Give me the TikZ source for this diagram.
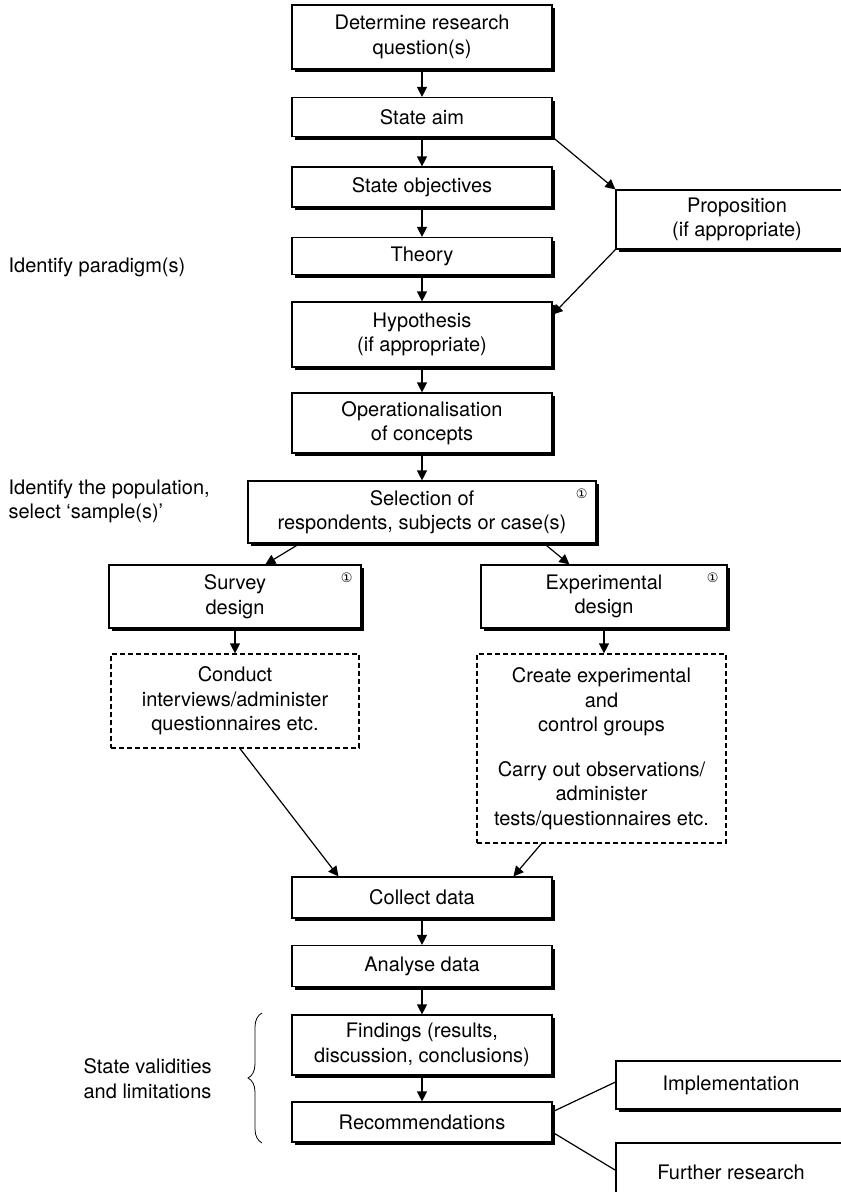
\documentclass[tikz,border=0pt]{standalone}
\usepackage{fontspec}
\setmainfont{TeX Gyre Heros}
\newfontfamily\circfont{DejaVu Sans}
\usetikzlibrary{arrows.meta, calc, shadows, decorations.pathreplacing}

\begin{document}
\begin{tikzpicture}[x=1pt, y=-1pt, line width=1.2pt,
  font=\fontsize{20}{24.5}\selectfont,
  stagebox/.style={draw, fill=white, align=center, inner sep=0pt,
    drop shadow={shadow xshift=3pt, shadow yshift=-3pt, fill=black, opacity=1}},
  taskbox/.style={draw, dash pattern=on 5pt off 3pt, align=center, inner sep=0pt},
  note/.style={anchor=west, align=left, inner sep=0pt},
  numbermark/.style={font=\circfont\fontsize{13}{13}\selectfont, inner sep=0pt},
  flow/.style={-{Triangle[length=10pt, width=10pt]}}]
  \useasboundingbox (0,0) rectangle (841,1192);
  \clip (0,0) rectangle (841,1192);

  % Main column
  \node[stagebox, minimum width=260pt, minimum height=64pt] (detq) at (422,37) {Determine research\\question(s)};
  \node[stagebox, minimum width=260pt, minimum height=39pt] (aim) at (422,117) {State aim};
  \node[stagebox, minimum width=260pt, minimum height=40pt] (obj) at (422,187) {State objectives};
  \node[stagebox, minimum width=260pt, minimum height=37pt] (theory) at (422,256) {Theory};
  \node[stagebox, minimum width=260pt, minimum height=65pt] (hyp) at (422,334.5) {Hypothesis\\(if appropriate)};
  \node[stagebox, minimum width=260pt, minimum height=60pt] (oper) at (422,423) {Operationalisation\\of concepts};
  \node[stagebox, minimum width=348pt, minimum height=62pt] (sel) at (422,512) {Selection of\\respondents, subjects or case(s)};

  % Side box
  \node[stagebox, minimum width=242pt, minimum height=59pt] (prop) at (737,219.5) {Proposition\\(if appropriate)};

  % Two designs
  \node[stagebox, minimum width=252pt, minimum height=63pt] (surv) at (235,596.5) {Survey\\design};
  \node[stagebox, minimum width=246pt, minimum height=63pt] (expd) at (604,596.5) {Experimental\\design};
  \node[taskbox, minimum width=248pt, minimum height=94pt] (cond) at (235,701) {Conduct\\interviews/administer\\questionnaires etc.};
  \node[taskbox, minimum width=249pt, minimum height=189pt] (expg) at (601.5,748.5) {Create experimental\\and\\control groups\\[20pt]Carry out observations/\\administer\\tests/questionnaires etc.};

  % Lower column
  \node[stagebox, minimum width=260pt, minimum height=41pt] (coll) at (422,897.5) {Collect data};
  \node[stagebox, minimum width=260pt, minimum height=41pt] (anal) at (422,966) {Analyse data};
  \node[stagebox, minimum width=260pt, minimum height=60pt] (find) at (422,1045) {Findings (results,\\discussion, conclusions)};
  \node[stagebox, minimum width=260pt, minimum height=40pt] (rec) at (422,1122) {Recommendations};
  \node[stagebox, minimum width=230pt, minimum height=48pt] (impl) at (731,1085) {Implementation};
  \node[stagebox, minimum width=230pt, minimum height=58pt] (furth) at (731,1172) {Further research};

  % Circled marks
  \node[numbermark] (selmark) at ($(sel.north east)+(-15,13)$) {①};
  \node[numbermark] (survmark) at ($(surv.north east)+(-15,13)$) {①};
  \node[numbermark] (expdmark) at ($(expd.north east)+(-15,13)$) {①};

  % Notes on the left
  \node[note] (paradigm) at (8,267) {Identify paradigm(s)};
  \node[note] (popul) at (8,501.5) {Identify the population,\\select ‘sample(s)’};
  \node[note] (valid) at (83,1078.5) {State validities\\and limitations};
  \draw[line width=0.8pt, decorate, decoration={brace, amplitude=14pt}] (262,1143) -- (262,1013);

  % Connectors
  \draw[flow] (detq) -- (aim);
  \draw[flow] (aim) -- (obj);
  \draw[flow] (obj) -- (theory);
  \draw[flow] (theory) -- (hyp);
  \draw[flow] (hyp) -- (oper);
  \draw[flow] (oper) -- (sel);
  \draw[flow] (aim.south east) -- (prop.north west);
  \draw[flow] (prop.south west) -- ($(hyp.north east)!0.2!(hyp.south east)$);
  \draw[flow] ($(sel.south west)!0.15!(sel.south east)$) -- ($(surv.north west)!0.62!(surv.north east)$);
  \draw[flow] ($(sel.south west)!0.85!(sel.south east)$) -- ($(expd.north west)!0.36!(expd.north east)$);
  \draw[flow] (surv) -- (cond);
  \draw[flow] (expd.south) -- (expd.south |- expg.north);
  \draw[flow] ($(cond.south west)!0.52!(cond.south east)$) -- ($(coll.north west)!0.18!(coll.north east)$);
  \draw[flow] ($(expg.south west)!0.26!(expg.south east)$) -- ($(coll.north west)!0.85!(coll.north east)$);
  \draw[flow] (coll) -- (anal);
  \draw[flow] (anal) -- (find);
  \draw[flow] (find) -- (rec);
  \draw ($(rec.north east)!0.25!(rec.south east)$) -- ($(impl.north west)!0.44!(impl.south west)$);
  \draw ($(rec.north east)!0.75!(rec.south east)$) -- ($(furth.north west)!0.47!(furth.south west)$);
\end{tikzpicture}
\end{document}
